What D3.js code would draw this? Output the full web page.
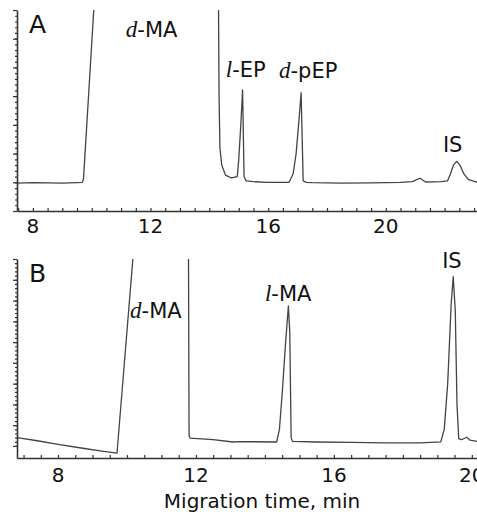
<!DOCTYPE html>
<html>
<head>
<meta charset="utf-8">
<script src="https://cdn.jsdelivr.net/npm/d3@7"></script>
<style>
body { margin: 0; background: #fff; }
svg { display: block; }
text { font-family: "DejaVu Sans", sans-serif; fill: #111; }
.it { font-family: "Liberation Serif", "DejaVu Serif", serif; font-style: italic; }
</style>
</head>
<body>
<div id="chart"></div>
<script>
var width = 477, height = 512;

// panel A electropherogram (time in min, signal in arbitrary units)
var timeA = [7.46, 8.0, 8.5, 9.0, 9.5, 9.68, 9.72, 10.07, 10.2,
    14.30, 14.33, 14.36, 14.42, 14.55, 14.75, 14.95, 15.00, 15.07, 15.13, 15.18, 15.25,
    15.5, 16.0, 16.5, 16.71, 16.85, 16.95, 17.05, 17.12, 17.19, 17.3,
    17.5, 18.5, 19.5, 20.5, 20.9, 21.16, 21.35, 21.9, 22.1, 22.2, 22.3, 22.41, 22.52, 22.65, 22.8, 23.0, 23.1];
var signalA = [0.97, 0.99, 0.98, 0.97, 0.99, 1.0, 1.1, 7.0, 9.0,
    9.0, 4.0, 2.2, 1.6, 1.25, 1.15, 1.2, 1.8, 3.0, 4.22, 1.2, 1.05,
    1.02, 1.0, 1.0, 1.0, 1.3, 2.0, 3.2, 4.12, 1.05, 1.0,
    0.99, 0.97, 0.98, 1.0, 1.02, 1.14, 1.01, 1.02, 1.05, 1.3, 1.6, 1.73, 1.6, 1.3, 1.1, 1.03, 1.0];

// panel B electropherogram
var timeB = [6.81, 7.4, 8.0, 8.72, 9.22, 9.71, 10.17, 10.25,
    11.78, 11.80, 11.83, 12.5, 13.07, 13.28, 14.34, 14.42, 14.5, 14.6, 14.68, 14.72, 14.76, 14.8,
    15.5, 16.5, 17.5, 18.5, 19.1, 19.2, 19.3, 19.4, 19.46, 19.52, 19.57, 19.62, 19.7, 19.85, 19.95, 20.15];
var signalB = [0.40, 0.25, 0.08, -0.11, -0.24, -0.35, 9.0, 11.0,
    11.0, 0.5, 0.38, 0.3, 0.19, 0.21, 0.19, 0.8, 2.5, 5.0, 6.74, 5.5, 0.4, 0.22,
    0.19, 0.17, 0.15, 0.15, 0.2, 0.8, 3.0, 6.8, 8.15, 6.5, 2.0, 0.35, 0.3, 0.42, 0.28, 0.22];

var tickTimes = [8, 12, 16, 20];

// peak labels: [italic prefix, rest, time, signal]
var labelsA = [["d", "-MA", 11.16, 6.06], ["l", "-EP", 14.56, 4.67], ["d", "-pEP", 16.37, 4.63], ["", "IS", 21.94, 2.05]];
var labelsB = [["d", "-MA", 10.09, 6.16], ["l", "-MA", 14.0, 6.98], ["", "IS", 19.14, 8.57]];

var svg = d3.select("#chart").append("svg")
    .attr("width", width).attr("height", height);

function panel(name, times, signals, labels, opts) {
    var x = d3.scaleLinear().domain(opts.xdom).range([17, 477]);
    var y = d3.scaleLinear().domain(opts.ydom).range([opts.bottom, opts.top]);

    var g = svg.append("g");

    g.append("clipPath").attr("id", "clip" + name)
        .append("rect")
        .attr("x", 17).attr("y", opts.top)
        .attr("width", 460).attr("height", opts.bottom - opts.top);

    var data = times.map(function(t, i) { return [t, signals[i]]; });
    var line = d3.line().x(d => x(d[0])).y(d => y(d[1]));

    g.append("path")
        .datum(data)
        .attr("clip-path", "url(#clip" + name + ")")
        .attr("fill", "none")
        .attr("stroke", "#444")
        .attr("stroke-width", 1.3)
        .attr("stroke-linejoin", "round")
        .attr("d", line);

    // left axis, major + minor ticks
    var y0 = opts.ydom[0] < 0 ? 0 : opts.ydom[0];
    var ymaj = d3.range(y0, opts.ydom[1] + 0.01, 1);
    var ymin = d3.range(y0, opts.ydom[1] + 0.01, 0.2);
    g.append("g")
        .attr("transform", "translate(17,0)")
        .call(d3.axisLeft(y).tickValues(ymin).tickSize(2).tickFormat(""))
        .call(a => a.select(".domain").remove());
    g.append("g")
        .attr("transform", "translate(17,0)")
        .call(d3.axisLeft(y).tickValues(ymaj).tickSize(4).tickSizeOuter(0).tickFormat(""));

    // bottom axis
    var xmin = d3.range(Math.ceil(opts.xdom[0] * 2) / 2, opts.xdom[1], 0.5);
    g.append("g")
        .attr("transform", "translate(0," + opts.bottom + ")")
        .call(d3.axisBottom(x).tickValues(xmin).tickSize(-3).tickSizeOuter(0).tickFormat(""));

    g.selectAll("path.domain, line").attr("stroke", "#333").attr("stroke-width", 1.2);
    g.selectAll(".domain").attr("stroke-width", 1.6);

    g.selectAll(".ticklab")
        .data(tickTimes)
        .enter()
        .append("text")
        .attr("x", d => x(d))
        .attr("y", opts.bottom + opts.labOff)
        .attr("text-anchor", "middle")
        .style("font-size", "20px")
        .text(d => d);

    g.append("text")
        .attr("x", 29).attr("y", opts.top + 23)
        .style("font-size", "25px")
        .text(name);

    labels.forEach(function(l) {
        var t = g.append("text")
            .attr("x", x(l[2])).attr("y", y(l[3]))
            .style("font-size", "21px");
        if (l[0]) t.append("tspan").attr("class", "it").style("font-size", "23px").text(l[0]);
        t.append("tspan").text(l[1]);
    });
}

panel("A", timeA, signalA, labelsA,
    {xdom: [7.46, 23.1], ydom: [0, 7], top: 10, bottom: 211, labOff: 22});
panel("B", timeB, signalB, labelsB,
    {xdom: [6.81, 20.15], ydom: [-0.58, 9], top: 259, bottom: 458, labOff: 24});

svg.append("text")
    .attr("x", 262).attr("y", 508)
    .attr("text-anchor", "middle")
    .style("font-size", "20px")
    .text("Migration time, min");
</script>
</body>
</html>
